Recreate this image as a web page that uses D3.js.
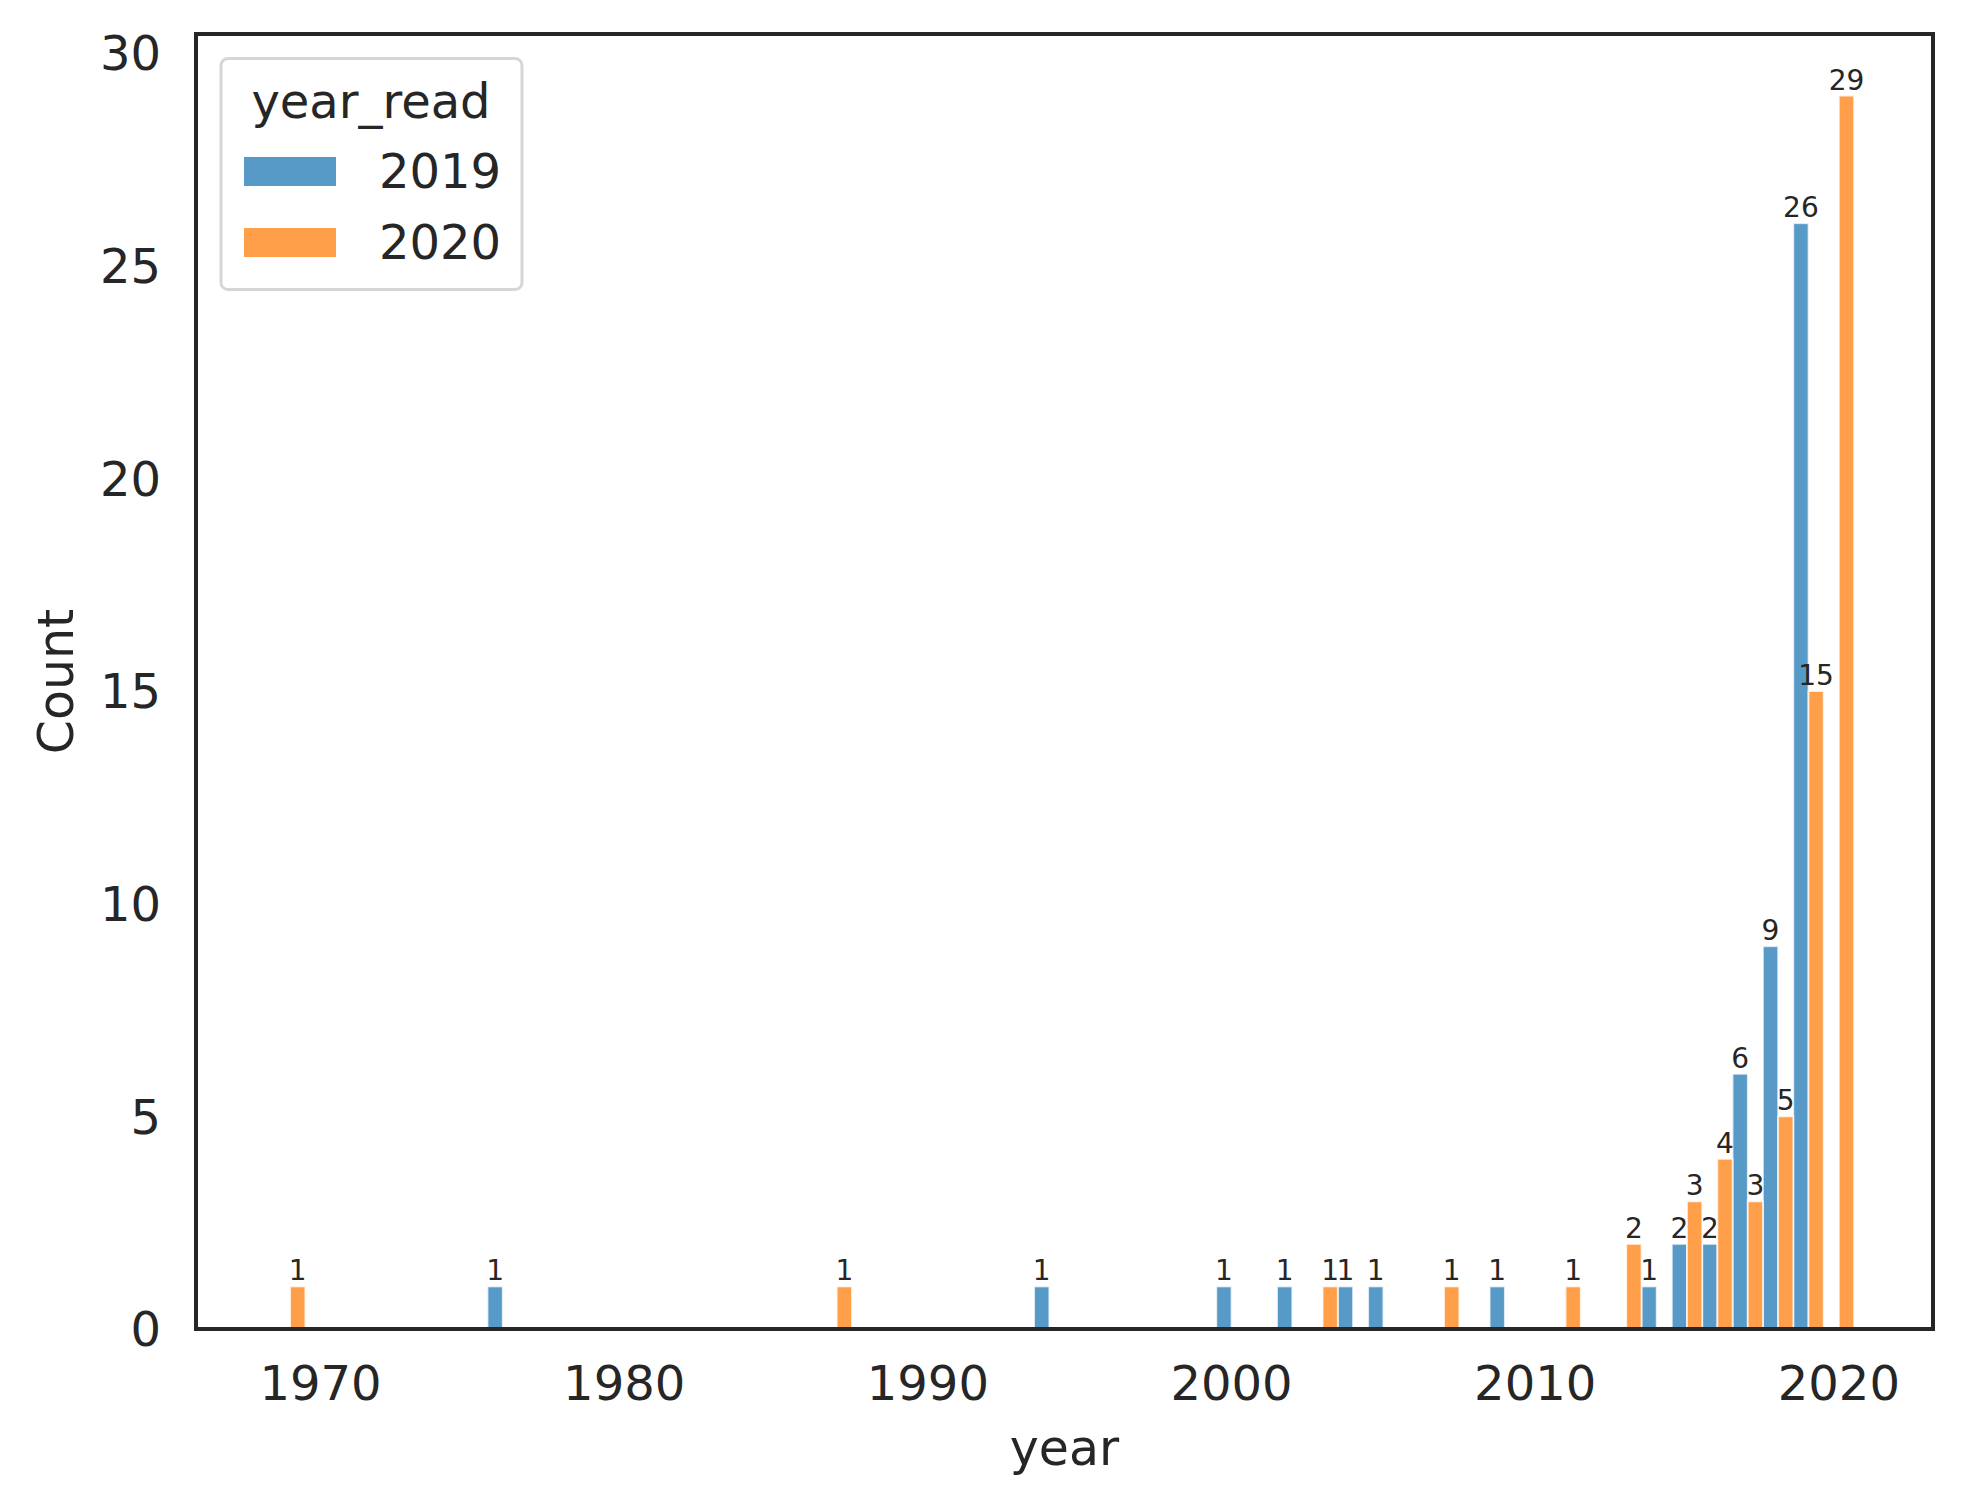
<!DOCTYPE html>
<html>
<head>
<meta charset="utf-8">
<script src="https://cdn.jsdelivr.net/npm/d3@7"></script>
<style>
  body { margin: 0; background: #fff; }
  text { font-family: "DejaVu Sans", sans-serif; fill: #262626; }
</style>
</head>
<body>
<svg id="chart"></svg>
<script>
// publication year of books, counted per year they were read
const years2019 = [1976, 1994, 2000, 2002, 2004, 2005, 2009, 2014, 2015, 2016, 2017, 2018, 2019];
const counts2019 = [1, 1, 1, 1, 1, 1, 1, 1, 2, 2, 6, 9, 26];
const years2020 = [1969, 1987, 2003, 2007, 2011, 2013, 2015, 2016, 2017, 2018, 2019, 2020];
const counts2020 = [1, 1, 1, 1, 1, 2, 3, 4, 3, 5, 15, 29];
const hueLevels = ['2019', '2020'];
const xTicks = [1970, 1980, 1990, 2000, 2010, 2020];
const yTicks = [0, 5, 10, 15, 20, 25, 30];

const width = 1968, height = 1511;
const margin = { top: 34, right: 35, bottom: 182, left: 196 };
const colors = { '2019': '#5799c7', '2020': '#ff9f4a' };

const svg = d3.select('#chart')
  .attr('width', width)
  .attr('height', height);

svg.append('rect').attr('width', width).attr('height', height).attr('fill', '#fff');

// x: discrete bins centred on integer years, 5% margin each side
const x = d3.scaleLinear()
  .domain([1965.9, 2023.1])
  .range([margin.left, width - margin.right]);

const y = d3.scaleLinear()
  .domain([0, 30.45])
  .range([height - margin.bottom, margin.top]);

const series = [
  { key: '2019', years: years2019, counts: counts2019, offset: 0 },
  { key: '2020', years: years2020, counts: counts2020, offset: 0.5 }
];

const bars = svg.append('g');
series.forEach(s => {
  const rows = s.years.map((yr, i) => ({ yr, n: s.counts[i] }));
  const g = bars.append('g');
  g.selectAll('rect')
    .data(rows)
    .enter().append('rect')
    .attr('x', d => x(d.yr - 0.5 + s.offset))
    .attr('width', d => x(d.yr + s.offset) - x(d.yr - 0.5 + s.offset))
    .attr('y', d => y(d.n))
    .attr('height', d => y(0) - y(d.n))
    .attr('fill', colors[s.key])
    .attr('stroke', '#fff')
    .attr('stroke-opacity', 0.75)
    .attr('stroke-width', 1.8);

  // count labels over each bar
  g.selectAll('text')
    .data(rows)
    .enter().append('text')
    .attr('x', d => x(d.yr - 0.25 + s.offset))
    .attr('y', d => y(d.n) - 6)
    .attr('text-anchor', 'middle')
    .style('font-size', '28px')
    .text(d => d.n);
});

// frame
svg.append('rect')
  .attr('x', margin.left)
  .attr('y', margin.top)
  .attr('width', width - margin.left - margin.right)
  .attr('height', height - margin.top - margin.bottom)
  .attr('fill', 'none')
  .attr('stroke', '#262626')
  .attr('stroke-width', 4);

// tick labels (no tick marks in this style)
svg.append('g').selectAll('text')
  .data(xTicks)
  .enter().append('text')
  .attr('x', d => x(d))
  .attr('y', 1400)
  .attr('text-anchor', 'middle')
  .style('font-size', '48px')
  .text(d => d);

svg.append('g').selectAll('text')
  .data(yTicks)
  .enter().append('text')
  .attr('x', 161)
  .attr('y', d => y(d))
  .attr('dy', '0.36em')
  .attr('text-anchor', 'end')
  .style('font-size', '48px')
  .text(d => d);

// axis titles
svg.append('text')
  .attr('x', (margin.left + width - margin.right) / 2)
  .attr('y', 1465)
  .attr('text-anchor', 'middle')
  .style('font-size', '49px')
  .text('year');

svg.append('text')
  .attr('transform', `translate(73,${(margin.top + height - margin.bottom) / 2}) rotate(-90)`)
  .attr('text-anchor', 'middle')
  .style('font-size', '49px')
  .text('Count');

// legend
const legend = svg.append('g');
legend.append('rect')
  .attr('x', 221).attr('y', 58.5)
  .attr('width', 301).attr('height', 231)
  .attr('rx', 7)
  .attr('fill', '#fff')
  .attr('stroke', '#d6d6d6')
  .attr('stroke-width', 3);

legend.append('text')
  .attr('x', 371).attr('y', 118)
  .attr('text-anchor', 'middle')
  .style('font-size', '48px')
  .text('year_read');

hueLevels.forEach((lvl, i) => {
  legend.append('rect')
    .attr('x', 244).attr('y', 157 + i * 71)
    .attr('width', 92).attr('height', 29)
    .attr('fill', colors[lvl]);
  legend.append('text')
    .attr('x', 379).attr('y', 188 + i * 71)
    .style('font-size', '48px')
    .text(lvl);
});
</script>
</body>
</html>
